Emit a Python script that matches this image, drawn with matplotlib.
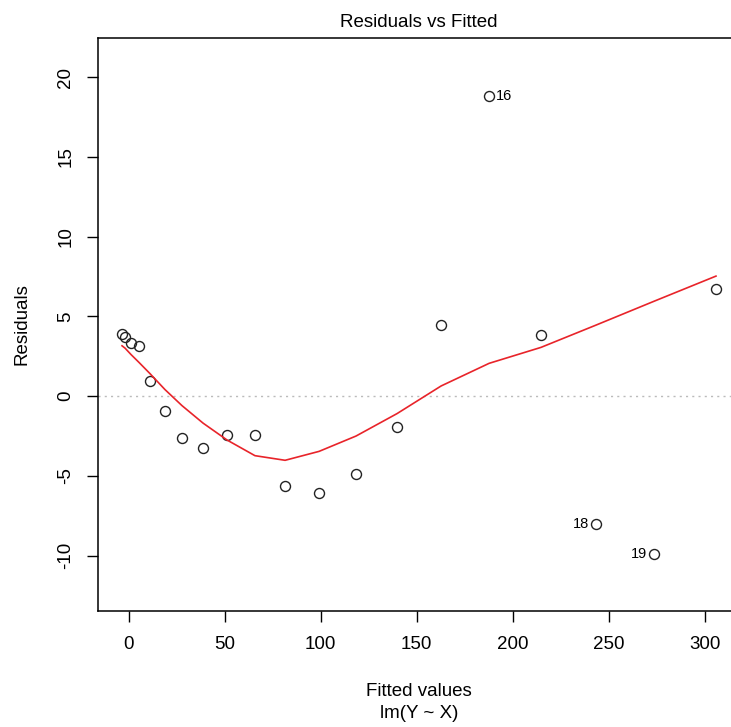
import numpy as np
import matplotlib.pyplot as plt

plt.rcParams['font.family'] = ['Liberation Sans', 'DejaVu Sans']
plt.rcParams['axes.unicode_minus'] = False

# fitted values and residuals
fitted = [-3.4, -1.8, 1.3, 5.5, 11.2, 19.0, 27.8, 38.8, 51.3, 65.8,
          81.5, 99.2, 118.4, 139.8, 162.7, 187.7, 214.7, 243.4, 273.5, 305.8]
resid = [3.89, 3.70, 3.32, 3.13, 0.94, -0.94, -2.63, -3.26, -2.45, -2.45,
         -5.64, -6.08, -4.89, -1.94, 4.45, 18.81, 3.82, -8.03, -9.91, 6.71]
# lowess smoother at each fitted value
smooth = [3.15, 3.0, 2.6, 2.1, 1.4, 0.4, -0.6, -1.7, -2.76, -3.74,
          -4.03, -3.47, -2.51, -1.1, 0.63, 2.05, 3.05, 4.45, 5.94, 7.52]
outlier_idx = [16, 18, 19]

fig = plt.figure(figsize=(7.31, 7.27), dpi=100)
ax = fig.add_axes([98/731, 1 - 611/727, (740 - 98)/731, (611 - 38)/727])

ax.axhline(0, color="#bbbbbb", lw=1.0, ls=(0, (1.5, 3)))
ax.plot(fitted, resid, ls="none", marker="o", ms=7.2, mfc="none",
        mec="#222222", mew=1.0)
ax.plot(fitted, smooth, color="#e8242a", lw=1.2)

for i in outlier_idx:
    xo = 4.8 if i == 16 else -4.8
    ax.annotate(str(i), (fitted[i - 1], resid[i - 1]), xytext=(xo, 0),
                textcoords="offset points", ha="left" if xo > 0 else "right",
                va="center", fontsize=10.5)

ax.set_xlim(-15.9, 318.3)
ax.set_ylim(-13.48, 22.45)
ax.set_xticks([0, 50, 100, 150, 200, 250, 300])
ax.set_yticks([-10, -5, 0, 5, 10, 15, 20])
ax.tick_params(axis="x", length=8, width=1.0, pad=10, labelsize=13.5)
ax.tick_params(axis="y", length=8, width=1.0, pad=9, labelsize=13.5,
               labelrotation=90)
for lab in ax.get_yticklabels():
    lab.set_va("center")
for s in ax.spines.values():
    s.set_linewidth(1.1)

ax.set_title("Residuals vs Fitted", fontsize=13.5, pad=8)
fig.text(419/731, 1 - 691/727, "Fitted values", ha="center", va="center", fontsize=13.5)
fig.text(419/731, 1 - 713/727, "lm(Y ~ X)", ha="center", va="center", fontsize=13.5)
fig.text(22/731, 1 - 324.5/727, "Residuals", ha="center", va="center",
         rotation=90, fontsize=13.5)

plt.savefig("out.png", dpi=100)
